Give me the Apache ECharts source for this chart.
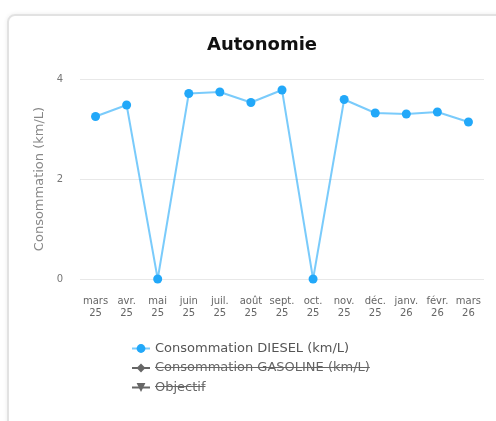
<!DOCTYPE html>
<html><head><meta charset="utf-8">
<script src="https://cdn.jsdelivr.net/npm/echarts@6/dist/echarts.min.js"></script>
<style>
html,body{margin:0;padding:0;background:#fff;width:496px;height:421px;overflow:hidden;}
#card{position:absolute;left:7px;top:14px;width:560px;height:460px;border:2px solid #e2e2e2;border-radius:8px;box-shadow:0 0 4px rgba(0,0,0,0.08);box-sizing:border-box;}
#c{position:absolute;left:0;top:0;width:496px;height:421px;}
</style></head>
<body>
<div id="card"></div>
<div id="c"></div>
<script>
var categories = ['mars\n25','avr.\n25','mai\n25','juin\n25','juil.\n25','août\n25','sept.\n25','oct.\n25','nov.\n25','déc.\n25','janv.\n26','févr.\n26','mars\n26'];
var diesel = [3.25, 3.48, 0, 3.71, 3.74, 3.53, 3.78, 0, 3.59, 3.32, 3.30, 3.34, 3.14];
var gasoline = [];
var objectif = [];
var seriesNames = ['Consommation DIESEL (km/L)', 'Consommation GASOLINE (km/L)', 'Objectif'];

var font = '"DejaVu Sans", sans-serif';
var legendFontSize = 13;
var legendTextX = 155;
function textWidth(t){
  var ctx = document.createElement('canvas').getContext('2d');
  ctx.font = legendFontSize + 'px ' + font;
  return ctx.measureText(t).width;
}
var strikeRows = [[seriesNames[1], 367.5], [seriesNames[2], 386.5]];
var strikes = strikeRows.map(function(r){
  return {type:'line', silent:true, z:100,
    shape:{x1:legendTextX, y1:r[1], x2:legendTextX + textWidth(r[0]), y2:r[1]},
    style:{stroke:'#666', lineWidth:1}};
});

var chart = echarts.init(document.getElementById('c'), null, {renderer:'canvas'});
chart.setOption({
  animation:false,
  textStyle:{fontFamily:font},
  title:{text:'Autonomie', left:257, textAlign:'center', top:31,
    textStyle:{fontSize:18, fontWeight:'bold', color:'#111', fontFamily:font}},
  grid:{left:80, right:12, top:79, bottom:142},
  xAxis:{type:'category', data:categories, boundaryGap:true,
    axisLine:{show:false}, axisTick:{show:false},
    axisLabel:{color:'#666', fontSize:10, lineHeight:11.5, margin:17, interval:0, fontFamily:font}},
  yAxis:{type:'value', min:0, max:4, interval:2,
    name:'Consommation (km/L)', nameLocation:'middle', nameGap:29,
    nameTextStyle:{color:'#888', fontSize:13, fontFamily:font},
    axisLine:{show:false}, axisTick:{show:false},
    axisLabel:{color:'#777', fontSize:10, margin:17, fontFamily:font},
    splitLine:{lineStyle:{color:'#e8e8e8'}}},
  legend:{orient:'vertical', left:126, top:337, itemGap:6.5, itemWidth:18, itemHeight:11,
    textStyle:{color:'#555', fontSize:legendFontSize, fontFamily:font}, inactiveColor:'#666',
    inactiveBorderColor:'#666',
    lineStyle:{inactiveColor:'#666', inactiveWidth:2},
    selected:{'Consommation GASOLINE (km/L)':false, 'Objectif':false}},
  graphic:strikes,
  series:[
    {name:seriesNames[0], type:'line', data:diesel, symbol:'circle', symbolSize:9,
      itemStyle:{color:'#22a8f9'}, lineStyle:{color:'rgba(34,168,249,0.6)', width:2}},
    {name:seriesNames[1], type:'line', data:gasoline, symbol:'diamond', symbolSize:9,
      itemStyle:{color:'#555'}, lineStyle:{color:'#555', width:2}},
    {name:seriesNames[2], type:'line', data:objectif, symbol:'path://M0,0 L10,0 L5,9 Z', symbolSize:9,
      itemStyle:{color:'#555'}, lineStyle:{color:'#555', width:2}}
  ]
});
</script>
</body></html>
